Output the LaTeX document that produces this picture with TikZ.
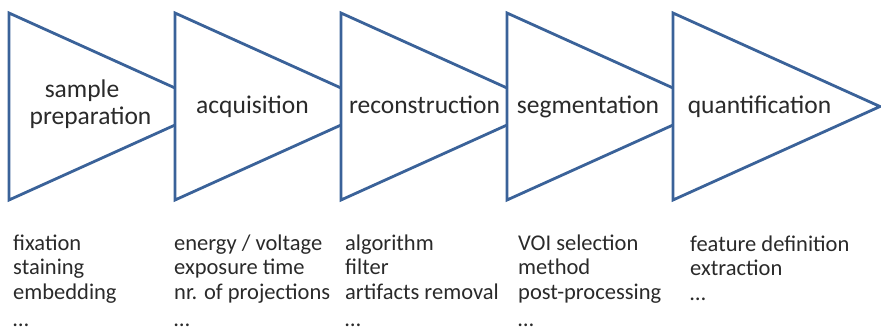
\documentclass[tikz,border=0pt]{standalone}
\usepackage{fontspec}
\setmainfont{Carlito}
\definecolor{tri}{HTML}{3A6299}
\definecolor{txt}{HTML}{2A2A2A}
\begin{document}
\begin{tikzpicture}[x=1pt,y=-1pt,
  stage/.style={draw=tri,line width=2.8pt,fill=white,line join=miter},
  lbl/.style={text=txt,font=\fontsize{25.5}{27}\selectfont,inner sep=0pt,anchor=base},
  sub/.style={text=txt,font=\fontsize{22.5}{24.5}\selectfont,inner sep=0pt,anchor=base west,align=left}]
\useasboundingbox (0,0) rectangle (881,330);
\foreach \x in {9,175,341,507,673}{
  \draw[stage] (\x,13) -- (\x+207,106.5) -- (\x,200) -- cycle;
}
\node[lbl] (l1a) at (82,97) {sample};
\node[lbl] (l1b) at (90.5,124) {preparation};
\node[lbl] (l2) at (252.5,113) {acquisition};
\node[lbl] (l3) at (424.5,113) {reconstruction};
\node[lbl] (l4) at (588,113) {segmentation};
\node[lbl] (l5) at (759.5,113) {quantification};
\node[sub] (s1) at (13,299) {fixation\\staining\\embedding};
\node[sub] (s2) at (174,299) {energy / voltage\\exposure time\\nr. of projections};
\node[sub] (s3) at (345,299) {algorithm\\filter\\artifacts removal};
\node[sub] (s4) at (518,299) {VOI selection\\method\\post-processing};
\node[sub] (s5) at (690,300) {feature definition\\extraction\\…};
\node[sub] (d1) at (13,326) {…};
\node[sub] (d2) at (174,326) {…};
\node[sub] (d3) at (345,326) {…};
\node[sub] (d4) at (518,326) {…};
\end{tikzpicture}
\end{document}
